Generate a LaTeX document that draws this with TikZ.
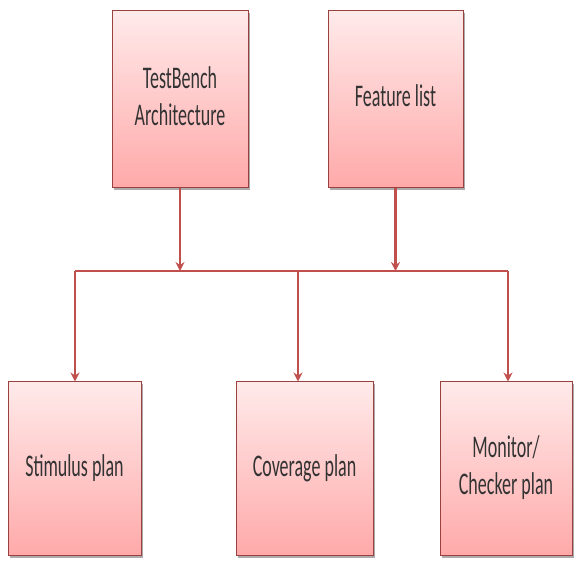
\documentclass[tikz,border=0pt]{standalone}
\usepackage{fontspec}
\usepackage{graphicx}
\setmainfont{Carlito}
\usetikzlibrary{arrows.meta,shadows}
\definecolor{boxline}{HTML}{C0504D}
\definecolor{boxtop}{HTML}{FFEAEA}
\definecolor{boxbot}{HTML}{FFA9A9}
\definecolor{arr}{HTML}{C0504D}
\newcommand{\sqtext}[1]{\scalebox{1}[1.75]{\fontsize{18}{21}\selectfont\begin{tabular}{@{}c@{}}#1\end{tabular}}}
\tikzset{
  planbox/.style={draw=boxline!80!black, line width=1pt, top color=boxtop, bottom color=boxbot,
    minimum height=#1, align=center, text=black!80,
    inner sep=2pt, drop shadow={shadow xshift=2pt, shadow yshift=-2pt, fill=black!55, opacity=0.6}},
  conn/.style={draw=arr, line width=2.2pt},
  arrconn/.style={conn, -{Stealth[length=9pt,width=9pt,inset=3pt]}}
}
\begin{document}
\begin{tikzpicture}[x=1pt,y=1pt]
\useasboundingbox (0,0) rectangle (574,563);
% top boxes
\node[planbox=177pt, minimum width=136pt] (tb) at (180,463.5) {\sqtext{TestBench\\Architecture}};
\node[planbox=177pt, minimum width=135pt] (fl) at (395.5,463.5) {\sqtext{Feature list}};
% bottom boxes
\node[planbox=174pt, minimum width=133pt] (st) at (74.5,94) {\sqtext{Stimulus plan}};
\node[planbox=174pt, minimum width=137pt] (cv) at (304.5,94) {\sqtext{Coverage plan}};
\node[planbox=174pt, minimum width=132pt] (mc) at (506,94) {\sqtext{Monitor/\\Checker plan}};
% bus
\coordinate (bl) at (75,292);
\coordinate (bm) at (298,292);
\coordinate (br) at (508,292);
\draw[conn, line cap=butt] (bl) -- (br);
\draw[arrconn] (tb.south) -- (tb.south |- bl);
\draw[arrconn] (fl.south) -- (fl.south |- bl);
\draw[arrconn] (bl) -- (bl |- st.north);
\draw[arrconn] (bm) -- (bm |- cv.north);
\draw[arrconn] (br) -- (br |- mc.north);
\end{tikzpicture}
\end{document}
